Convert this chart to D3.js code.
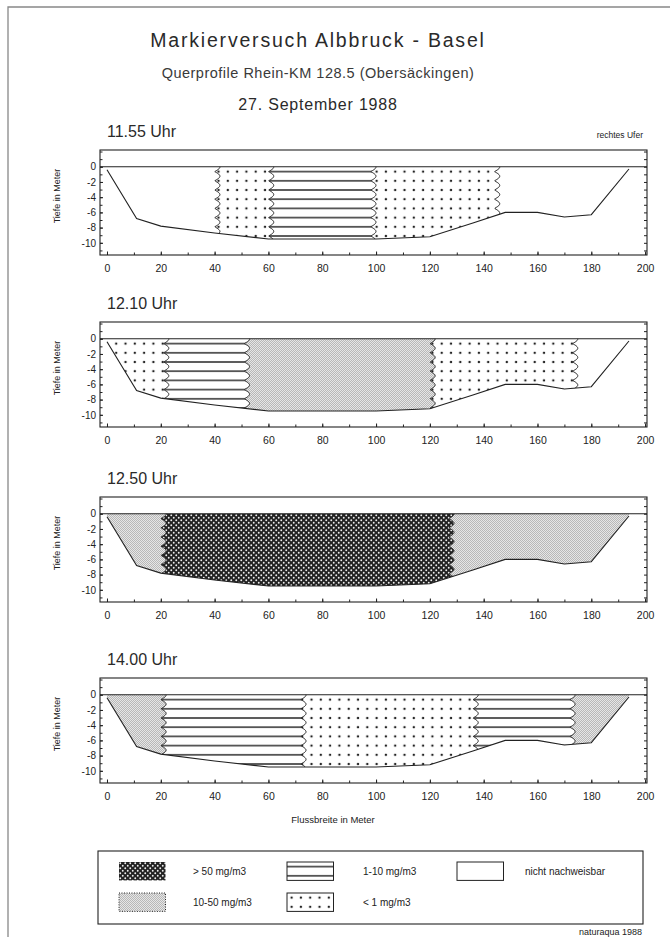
<!DOCTYPE html>
<html>
<head>
<meta charset="utf-8">
<script src="https://cdn.jsdelivr.net/npm/d3@7"></script>
<style>
  body { margin: 0; background: #fff; }
  text { font-family: "Liberation Sans", Arial, Helvetica, sans-serif; fill: #222; }
</style>
</head>
<body>
<svg id="chart" width="670" height="937"></svg>
<script>
/* global d3 */

// ---- data ----
var title = "Markierversuch Albbruck - Basel",
    subtitle = "Querprofile Rhein-KM 128.5 (Obersäckingen)",
    dateLabel = "27. September 1988";

var times = ["11.55 Uhr", "12.10 Uhr", "12.50 Uhr", "14.00 Uhr"];

// river bed (same cross section in every panel), metres
var bedX = [0, 11, 20, 40, 60, 80, 100, 120, 136, 148, 160, 170, 180, 194];
var bedY = [-0.4, -6.8, -7.8, -8.7, -9.5, -9.5, -9.5, -9.2, -7.4, -6.0, -6.0, -6.6, -6.3, -0.3];

// concentration zones: borders across the river and what lies between them
var zoneEdges = [
  [0, 41, 61, 99, 145, 200],
  [0, 22, 52, 121, 174, 200],
  [0, 21, 128, 200],
  [0, 21, 73, 137, 173, 200]
];
var zoneKinds = [
  ["none", "lt1", "c1_10", "lt1", "none"],
  ["lt1", "c1_10", "c10_50", "lt1", "none"],
  ["c10_50", "gt50", "c10_50"],
  ["c10_50", "c1_10", "lt1", "c1_10", "c10_50"]
];

var xTickLabels = [0, 20, 40, 60, 80, 100, 120, 140, 160, 180, 200];
var xMinorTicks = [0, 10, 20, 30, 40, 50, 60, 70, 80, 90, 100, 110, 120, 130, 140, 150, 160, 170, 180, 190, 200];
var yTickLabels = [0, -2, -4, -6, -8, -10];
var yMinorTicks = [2, 1, 0, -1, -2, -3, -4, -5, -6, -7, -8, -9, -10, -11];

var legendKinds = ["gt50", "c1_10", "none", "c10_50", "lt1"];
var legendLabels = ["> 50 mg/m3", "1-10 mg/m3", "nicht nachweisbar", "10-50 mg/m3", "< 1 mg/m3"];

// ---- layout ----
var panelTops = [150, 322, 497, 678],
    boxLeft = 100, boxRight = 647, boxH = 105,
    zeroOff = 17,             // zero line below box top
    rowStep = 9.2;            // spacing of hatch lines / dot rows

var svg = d3.select("#chart");
var defs = svg.append("defs");

var fills = {
  none: "#fff",
  lt1: "url(#pat-dots)",
  c1_10: "url(#pat-lines)",
  c10_50: "url(#pat-grey)",
  gt50: "url(#pat-dark)"
};

// patterns, tile origin on the water line of each panel
var pDots = defs.append("pattern").attr("id", "pat-dots")
  .attr("patternUnits", "userSpaceOnUse").attr("width", 9.3).attr("height", rowStep);
pDots.append("rect").attr("width", 9.3).attr("height", rowStep).attr("fill", "#fff");
pDots.append("circle").attr("cx", 4.6).attr("cy", rowStep / 2).attr("r", 1.2).attr("fill", "#222");

var pLines = defs.append("pattern").attr("id", "pat-lines")
  .attr("patternUnits", "userSpaceOnUse").attr("width", 10).attr("height", rowStep);
pLines.append("rect").attr("width", 10).attr("height", rowStep).attr("fill", "#fff");
pLines.append("rect").attr("y", rowStep / 2 - 0.7).attr("width", 10).attr("height", 1.4).attr("fill", "#222");

var pGrey = defs.append("pattern").attr("id", "pat-grey")
  .attr("patternUnits", "userSpaceOnUse").attr("width", 2).attr("height", 2);
pGrey.append("rect").attr("width", 2).attr("height", 2).attr("fill", "#e6e6e6");
pGrey.append("rect").attr("width", 1).attr("height", 1).attr("fill", "#b8b8b8");
pGrey.append("rect").attr("x", 1).attr("y", 1).attr("width", 1).attr("height", 1).attr("fill", "#b8b8b8");
pGrey.selectAll("rect").attr("shape-rendering", "crispEdges");

var pDark = defs.append("pattern").attr("id", "pat-dark")
  .attr("patternUnits", "userSpaceOnUse").attr("width", 5).attr("height", 5);
pDark.append("rect").attr("width", 5).attr("height", 5).attr("fill", "#222");
pDark.append("circle").attr("cx", 1.25).attr("cy", 1.25).attr("r", 0.95).attr("fill", "#eee");
pDark.append("circle").attr("cx", 3.75).attr("cy", 3.75).attr("r", 0.95).attr("fill", "#eee");

// page frame (only left and top edge survive on the scan)
svg.append("path").attr("d", "M8,937V7H670")
  .attr("fill", "none").attr("stroke", "#888").attr("stroke-width", 1.3);

// titles
svg.append("text").attr("x", 318).attr("y", 47).attr("text-anchor", "middle")
  .style("font-size", "19.5px").style("letter-spacing", "1.8px").style("fill", "#2a2a2a").text(title);
svg.append("text").attr("x", 318).attr("y", 78).attr("text-anchor", "middle")
  .style("font-size", "14.5px").style("letter-spacing", "0.5px").style("fill", "#3a3a3a").text(subtitle);
svg.append("text").attr("x", 318).attr("y", 110).attr("text-anchor", "middle")
  .style("font-size", "16px").style("letter-spacing", "0.8px").style("fill", "#2a2a2a").text(dateLabel);

svg.append("text").attr("x", 643).attr("y", 138).attr("text-anchor", "end")
  .style("font-size", "8.5px").text("rechtes Ufer");

var x = d3.scaleLinear().domain([-2.6, 200.7]).range([boxLeft, boxRight]);
// y(0) = 0 so the hatch patterns line up with the water surface
var y = d3.scaleLinear().domain([-11.6, 2.2]).range([boxH - zeroOff, -zeroOff]);

var bedPts = bedX.map(function(d, i) { return [x(d), y(bedY[i])]; });
var riverPts = [[x(bedX[0]), y(0)]].concat(bedPts, [[x(bedX[bedX.length - 1]), y(0)]]);

// wavy border between two zones (scalloped, cusps on the hatch rows)
function wave(edge) {
  var pts = [], x0 = x(edge), amp = 2.6;
  for (var py = y(0.8); py <= y(-12); py += 0.5) {
    var s = Math.abs(Math.sin(Math.PI * (py - rowStep / 2) / rowStep));
    pts.push([x0 - amp + 2 * amp * s, py]);
  }
  return pts;
}
function straight(edge) {
  return [[x(edge), y(0.8)], [x(edge), y(-12)]];
}

var line = d3.line();

times.forEach(function(t, pi) {
  var top = panelTops[pi];
  var g = svg.append("g").attr("transform", "translate(0," + (top + zeroOff) + ")");
  var yTop = y(2.2), yBot = y(-11.6);

  svg.append("text").attr("x", 107).attr("y", top - 13)
    .style("font-size", "16px").style("fill", "#2a2a2a").text(t);

  svg.append("text")
    .attr("transform", "translate(60," + (top + 46) + ") rotate(-90)")
    .attr("text-anchor", "middle").style("font-size", "9px").text("Tiefe in Meter");

  // clip everything to the wetted cross section
  defs.append("clipPath").attr("id", "river" + pi)
    .append("path").attr("d", line(riverPts) + "Z");

  var edges = zoneEdges[pi], kinds = zoneKinds[pi];
  var inner = g.append("g").attr("clip-path", "url(#river" + pi + ")");

  kinds.forEach(function(k, zi) {
    var e0 = edges[zi], e1 = edges[zi + 1];
    var left = (zi === 0) ? straight(-4) : wave(e0);
    var right = (zi === kinds.length - 1) ? straight(204) : wave(e1);
    var poly = left.concat(right.slice().reverse());
    inner.append("path").attr("d", line(poly) + "Z").attr("fill", fills[k]);
  });

  edges.slice(1, -1).forEach(function(e) {
    inner.append("path").attr("d", line(wave(e)))
      .attr("fill", "none").attr("stroke", "#222").attr("stroke-width", 1);
  });

  // water surface across the whole frame
  g.append("line").attr("x1", boxLeft).attr("x2", boxRight)
    .attr("y1", y(0)).attr("y2", y(0))
    .attr("stroke", "#222").attr("stroke-width", 1.1);

  // river bed
  g.append("path").attr("d", line(bedPts))
    .attr("fill", "none").attr("stroke", "#222").attr("stroke-width", 1.1);

  // frame
  g.append("rect").attr("x", boxLeft).attr("y", yTop)
    .attr("width", boxRight - boxLeft).attr("height", yBot - yTop)
    .attr("fill", "none").attr("stroke", "#222").attr("stroke-width", 1.1);

  // axes: inward ticks
  var xa = g.append("g").attr("transform", "translate(0," + yBot + ")")
    .call(d3.axisBottom(x).tickValues(xTickLabels).tickSize(-3.5).tickPadding(10)
      .tickFormat(function(d) { return d; }));
  var xm = g.append("g").attr("transform", "translate(0," + yBot + ")")
    .call(d3.axisBottom(x).tickValues(xMinorTicks).tickSize(-2.5).tickFormat(""));
  var ya = g.append("g").attr("transform", "translate(" + boxLeft + ",0)")
    .call(d3.axisLeft(y).tickValues(yTickLabels).tickSize(-3).tickPadding(4)
      .tickFormat(function(d) { return d; }));
  var ym = g.append("g").attr("transform", "translate(" + boxLeft + ",0)")
    .call(d3.axisLeft(y).tickValues(yMinorTicks).tickSize(-2.5).tickFormat(""));
  var yr = g.append("g").attr("transform", "translate(" + boxRight + ",0)")
    .call(d3.axisRight(y).tickValues(yMinorTicks).tickSize(-3).tickFormat(""));

  [xa, xm, ya, ym, yr].forEach(function(a) {
    a.select(".domain").remove();
    a.selectAll("line").attr("stroke", "#222");
    a.selectAll("text").style("font-family", "\"Liberation Sans\", Arial, sans-serif")
      .style("font-size", "10.5px").attr("fill", "#222");
  });
  ya.selectAll("text").style("font-size", "10px");
});

svg.append("text").attr("x", 333).attr("y", 823).attr("text-anchor", "middle")
  .style("font-size", "9.5px").text("Flussbreite in Meter");

// ---- legend ----
svg.append("rect").attr("x", 98).attr("y", 851).attr("width", 545).attr("height", 73)
  .attr("fill", "none").attr("stroke", "#222").attr("stroke-width", 1.1);

var legendColX = [119, 287, 457], legendTextX = [193, 363, 525], legendRowY = [862, 893];

legendKinds.forEach(function(k, i) {
  var col = i % 3, row = Math.floor(i / 3);
  var lg = svg.append("g")
    .attr("transform", "translate(" + legendColX[col] + "," + legendRowY[row] + ")");
  lg.append("rect").attr("width", 46.5).attr("height", rowStep * 2)
    .attr("fill", fills[k])
    .attr("stroke", k === "gt50" ? "none" : "#222")
    .attr("stroke-width", 1)
    .attr("stroke-dasharray", k === "c10_50" ? "1,1.5" : null);
  svg.append("text").attr("x", legendTextX[col]).attr("y", legendRowY[row] + rowStep)
    .attr("dy", "0.35em").style("font-size", "10px").text(legendLabels[i]);
});

svg.append("text").attr("x", 642).attr("y", 935).attr("text-anchor", "end")
  .style("font-size", "9px").text("naturaqua 1988");
</script>
</body>
</html>
